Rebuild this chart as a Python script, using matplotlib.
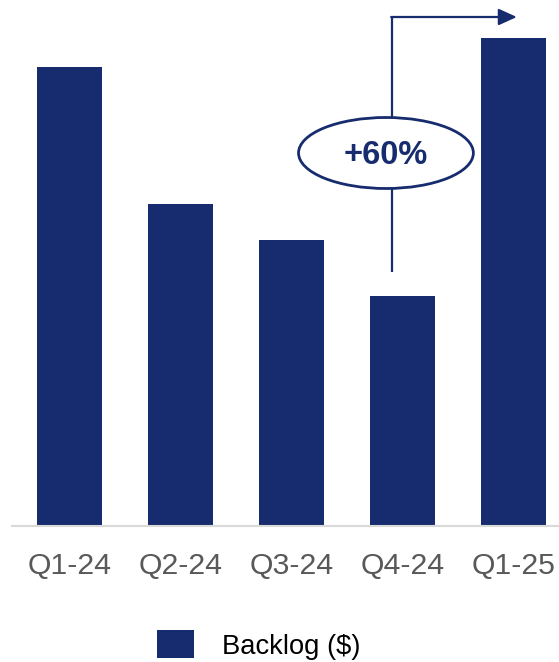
import matplotlib
matplotlib.use("Agg")
import matplotlib.pyplot as plt
from matplotlib.patches import Ellipse

categories = ["Q1-24", "Q2-24", "Q3-24", "Q4-24", "Q1-25"]
backlog = [459, 322, 286, 230, 488]
series_name = "Backlog ($)"
growth_label = "+60%"

navy = "#172C6E"
W, H = 559, 662
fig = plt.figure(figsize=(W / 100, H / 100), dpi=100)
plt.rcParams['font.family'] = ['Liberation Sans', 'DejaVu Sans']

# axes placement in pixels
left_px, base_px = 12, 526
ax = fig.add_axes([left_px / W, 1 - base_px / H, (W - left_px) / W, base_px / H])
x = list(range(len(categories)))
bars = ax.bar(x, backlog, width=0.586, color=navy, label=series_name)
ax.set_xlim(-0.518, 4.41)
ax.set_ylim(0, 526)
ax.set_xticks(x)
ax.set_xticklabels(categories, fontsize=21.8, color="#595959")
ax.tick_params(axis='x', length=0, pad=19)
ax.set_yticks([])
for s in ["left", "right", "top"]:
    ax.spines[s].set_visible(False)
ax.spines["bottom"].set_color("#D9D9D9")
ax.spines["bottom"].set_linewidth(1.5)

# growth annotation
lx = 2.905
ax.plot([lx, lx], [254, 509], color=navy, lw=1.6, solid_capstyle='butt', zorder=3, clip_on=False)
ax.annotate("", xy=(4.03, 509), xytext=(lx - 0.007, 509),
            arrowprops=dict(arrowstyle="-|>,head_length=1.1,head_width=0.5",
                            color=navy, lw=1.6, shrinkA=0, shrinkB=0),
            annotation_clip=False, zorder=3)
ell = Ellipse((2.851, 373), width=1.575, height=71, facecolor="white",
              edgecolor=navy, lw=2, zorder=4, clip_on=False)
ax.add_patch(ell)
ax.text(2.851, 371, growth_label, ha="center", va="center", fontsize=23.5,
        fontweight="bold", color=navy, zorder=5)

# legend
leg = fig.legend(handles=[bars], labels=[series_name], loc="center left",
                 bbox_to_anchor=(157 / W, 1 - 645 / H), frameon=False,
                 fontsize=19.7, handlelength=1.36, handleheight=1.2,
                 handletextpad=1.0, borderpad=0, borderaxespad=0)
for t in leg.get_texts():
    t.set_color("black")

fig.savefig("out.png", dpi=100)
